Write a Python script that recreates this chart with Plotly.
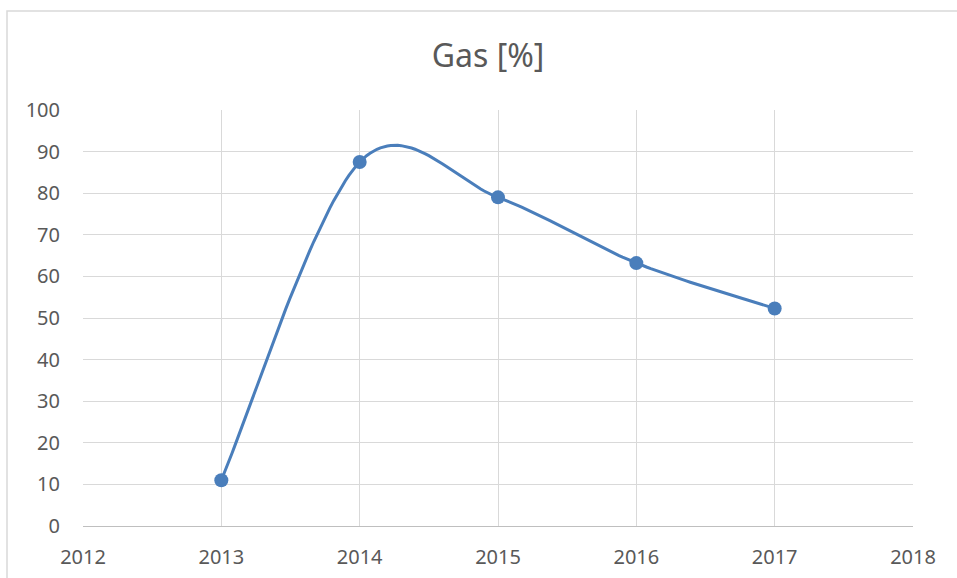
import plotly.graph_objects as go

years = [2013, 2014, 2015, 2016, 2017]
gas = [11.0, 87.5, 79.0, 63.2, 52.3]
x_ticks = [2012, 2013, 2014, 2015, 2016, 2017, 2018]
y_ticks = [0, 10, 20, 30, 40, 50, 60, 70, 80, 90, 100]
title_text = "Gas [%]"

W, H = 957, 578
L, R, T, B = 83, 44, 110, 52
pw, ph = W - L - R, H - T - B


def smooth_curve(xs, ys, steps=40):
    """Spreadsheet-style smoothed line: cubic Bezier through the points."""
    n = len(xs)
    cx, cy = [], []
    for i in range(n - 1):
        x0, y0 = (xs[i - 1], ys[i - 1]) if i > 0 else (xs[i], ys[i])
        x1, y1 = xs[i], ys[i]
        x2, y2 = xs[i + 1], ys[i + 1]
        x3, y3 = (xs[i + 2], ys[i + 2]) if i + 2 < n else (xs[i + 1], ys[i + 1])
        c1x, c1y = x1 + (x2 - x0) / 6, y1 + (y2 - y0) / 6
        c2x, c2y = x2 - (x3 - x1) / 6, y2 - (y3 - y1) / 6
        for k in range(steps + (1 if i == n - 2 else 0)):
            t = k / steps
            a, b, c, d = (1 - t) ** 3, 3 * (1 - t) ** 2 * t, 3 * (1 - t) * t ** 2, t ** 3
            cx.append(a * x1 + b * c1x + c * c2x + d * x2)
            cy.append(a * y1 + b * c1y + c * c2y + d * y2)
    return cx, cy


sx, sy = smooth_curve(years, gas)

fig = go.Figure()
fig.add_trace(go.Scatter(
    x=sx, y=sy, mode="lines",
    line=dict(color="#4a7ebb", width=3),
    showlegend=False, hoverinfo="skip",
))
fig.add_trace(go.Scatter(
    x=years, y=gas, mode="markers",
    marker=dict(color="#4a7ebb", size=14),
    showlegend=False,
))

font_family = "Noto Sans"
fig.update_layout(
    width=W, height=H,
    margin=dict(l=L, r=R, t=T, b=B, autoexpand=False),
    paper_bgcolor="white", plot_bgcolor="white",
    title=dict(text=title_text, x=0.51, xanchor="center", y=1 - 56 / H,
               yanchor="middle", yref="container",
               font=dict(family=font_family, size=32, color="#595959")),
    xaxis=dict(range=[2012, 2018], tickvals=x_ticks, ticktext=[str(v) for v in x_ticks],
               showgrid=True, gridcolor="#d9d9d9", gridwidth=1,
               showline=True, linecolor="#bfbfbf", linewidth=1,
               zeroline=False, ticks="", ticklabelstandoff=13, automargin=False,
               tickfont=dict(family=font_family, size=20, color="#595959")),
    yaxis=dict(range=[0, 100], tickvals=y_ticks,
               showgrid=True, gridcolor="#d9d9d9", gridwidth=1,
               showline=False, zeroline=False, ticks="", ticklabelstandoff=22, automargin=False,
               tickfont=dict(family=font_family, size=20, color="#595959")),
    shapes=[dict(type="rect", xref="paper", yref="paper",
                 x0=(7 - L) / pw, x1=(W + 5 - L) / pw,
                 y0=-(H + 5 - (H - B)) / ph, y1=((H - B) - 11) / ph,
                 line=dict(color="#d9d9d9", width=1.5), layer="below")],
)
fig.write_html("out.html", config={"displayModeBar": False},
               post_script="document.body.style.margin='0';document.body.style.overflow='hidden';")
